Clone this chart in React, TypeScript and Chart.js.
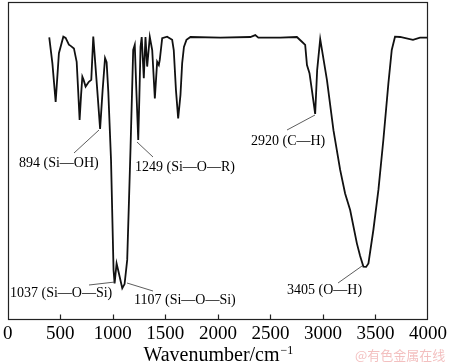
import React, { useEffect, useRef } from "react";
import { Chart, registerables } from "chart.js";

Chart.register(...registerables);

// Wavenumber (cm^-1)
const wavenumbers = [
  395, 425, 456, 487, 529, 551, 582, 599, 630, 656, 670, 684, 698, 710, 722, 741, 772, 795, 814, 852,
  879, 903, 926, 941, 957, 983, 1007, 1017, 1036, 1055, 1090, 1112, 1137, 1154, 1169, 1194, 1209, 1224,
  1242, 1252, 1264, 1275, 1295, 1311, 1327, 1352, 1375, 1400, 1422, 1438, 1447, 1470, 1517, 1565, 1580,
  1601, 1622, 1644, 1660, 1677, 1701, 1739, 2024, 2309, 2356, 2385, 2594, 2752, 2800, 2831, 2848, 2872,
  2895, 2926, 2945, 2974, 3038, 3100, 3164, 3211, 3259, 3323, 3354, 3385, 3411, 3433, 3480, 3528, 3575,
  3623, 3655, 3686, 3734, 3857, 3924, 4000,
];
// Transmittance (arbitrary units)
const transmittance = [
  88.9, 80.7, 68.6, 83.9, 89.1, 88.7, 86.6, 86.2, 85.4, 81.2, 72.3, 62.9, 70.8, 76.5, 75.5, 73.4, 74.9, 75.5, 89.1, 72.3,
  60.1, 72.3, 82.4, 81.1, 71.8, 50.3, 15.7, 11.5, 17.8, 15.1, 10.0, 11.3, 18.9, 37.7, 54.5, 84.9, 86.5, 72.3,
  56.6, 69.2, 85.9, 89.0, 76.0, 89.0, 79.7, 89.0, 84.9, 69.7, 81.2, 80.2, 81.8, 88.6, 89.1, 88.1, 84.9,
  72.3, 63.4, 70.8, 80.7, 85.9, 88.1, 89.0, 88.8, 89.0, 89.6, 88.8, 88.8, 89.0, 87.5, 86.5, 80.2, 77.6,
  72.3, 64.8, 78.6, 88.3, 75.5, 59.7, 47.2, 39.8, 34.6, 24.1, 20.1, 16.8, 16.7, 17.8, 28.3, 40.9, 56.6,
  74.4, 84.9, 89.1, 89.0, 88.1, 88.8, 88.8,
];

const xMin = 0;
const xMax = 4000;
const xStep = 500;
const xTitle = "Wavenumber/cm";
const xTitleSup = "\u22121";
const peakLabels = [
  "894 (Si\u2014OH)",
  "1249 (Si\u2014O\u2014R)",
  "2920 (C\u2014H)",
  "1037 (Si\u2014O\u2014Si)",
  "1107 (Si\u2014O\u2014Si)",
  "3405 (O\u2014H)",
];
const watermark = "@有色金属在线";

// label placement (pixels): text left, text middle, leader line
const labelLayout = [
  { tx: 19, ty: 163, line: [74, 153, 99, 130] },
  { tx: 135, ty: 167, line: [137, 142, 153, 157] },
  { tx: 251, ty: 141, line: [315, 115, 287, 130] },
  { tx: 10, ty: 293, line: [89, 285, 115, 282] },
  { tx: 134, ty: 300, line: [127, 283, 153, 291] },
  { tx: 287, ty: 290, line: [338, 283, 362, 266] },
];

const SERIF = "'Liberation Serif', 'Times New Roman', serif";

const decorPlugin = {
  id: "decor",
  afterDraw(chart: any) {
    const { ctx, chartArea } = chart;
    const xs = chart.scales.x;
    ctx.save();
    // frame
    ctx.strokeStyle = "#222";
    ctx.lineWidth = 1.2;
    const l = Math.round(chartArea.left) + 0.5;
    const t = Math.round(chartArea.top) + 0.5;
    const r = Math.round(chartArea.right) - 0.5;
    const b = Math.round(chartArea.bottom) - 0.5;
    ctx.strokeRect(l, t, r - l, b - t);
    // inward ticks
    ctx.beginPath();
    xs.ticks.forEach((tk: any) => {
      const x = Math.round(xs.getPixelForValue(tk.value)) + 0.5;
      if (tk.value === xMin || tk.value === xMax) return;
      ctx.moveTo(x, b);
      ctx.lineTo(x, b - 5);
    });
    ctx.stroke();
    // axis title
    ctx.fillStyle = "#000";
    ctx.font = `20px ${SERIF}`;
    const w1 = ctx.measureText(xTitle).width;
    ctx.font = `12px ${SERIF}`;
    const w2 = ctx.measureText(xTitleSup).width;
    const cx = (chartArea.left + chartArea.right) / 2;
    const startX = cx - (w1 + w2) / 2;
    ctx.textBaseline = "alphabetic";
    ctx.textAlign = "left";
    ctx.font = `20px ${SERIF}`;
    ctx.fillText(xTitle, startX, 361);
    ctx.font = `12px ${SERIF}`;
    ctx.fillText(xTitleSup, startX + w1 + 1, 354);
    // peak labels
    ctx.font = `14px ${SERIF}`;
    ctx.textBaseline = "middle";
    ctx.strokeStyle = "#333";
    ctx.lineWidth = 0.8;
    peakLabels.forEach((txt, i) => {
      const lay = labelLayout[i];
      ctx.fillText(txt, lay.tx, lay.ty);
      ctx.beginPath();
      ctx.moveTo(lay.line[0], lay.line[1]);
      ctx.lineTo(lay.line[2], lay.line[3]);
      ctx.stroke();
    });
    // watermark
    ctx.font = `13px 'Noto Sans CJK SC', sans-serif`;
    ctx.fillStyle = "rgba(235, 150, 150, 0.6)";
    ctx.textAlign = "left";
    ctx.fillText(watermark, 355, 355);
    ctx.restore();
  },
};

export default function App() {
  const ref = useRef<HTMLCanvasElement | null>(null);
  useEffect(() => {
    if (!ref.current) return;
    const points = wavenumbers.map((w, i) => ({ x: w, y: transmittance[i] }));
    const chart = new Chart(ref.current, {
      type: "line",
      data: {
        datasets: [
          {
            data: points,
            borderColor: "#111",
            borderWidth: 1.8,
            pointRadius: 0,
            tension: 0,
            fill: false,
          },
        ],
      },
      options: {
        animation: false,
        responsive: true,
        maintainAspectRatio: false,
        layout: { padding: { left: 7, right: 22, top: 2, bottom: 0 } },
        plugins: { legend: { display: false }, tooltip: { enabled: false } },
        scales: {
          x: {
            type: "linear",
            min: xMin,
            max: xMax,
            ticks: {
              stepSize: xStep,
              font: { family: SERIF, size: 19 },
              color: "#000",
              padding: 3,
              maxRotation: 0,
              autoSkip: false,
              callback: (v: any) => String(v),
            },
            grid: { display: false, drawTicks: false },
            border: { display: false },
            afterFit: (s: any) => {
              s.height = 44;
            },
          },
          y: { min: 0, max: 100, display: false },
        },
      },
      plugins: [decorPlugin],
    });
    return () => chart.destroy();
  }, []);
  return (
    <div style={{ position: "absolute", left: 0, top: 0, width: 450, height: 364, background: "#fff" }}>
      <canvas ref={ref} />
    </div>
  );
}
